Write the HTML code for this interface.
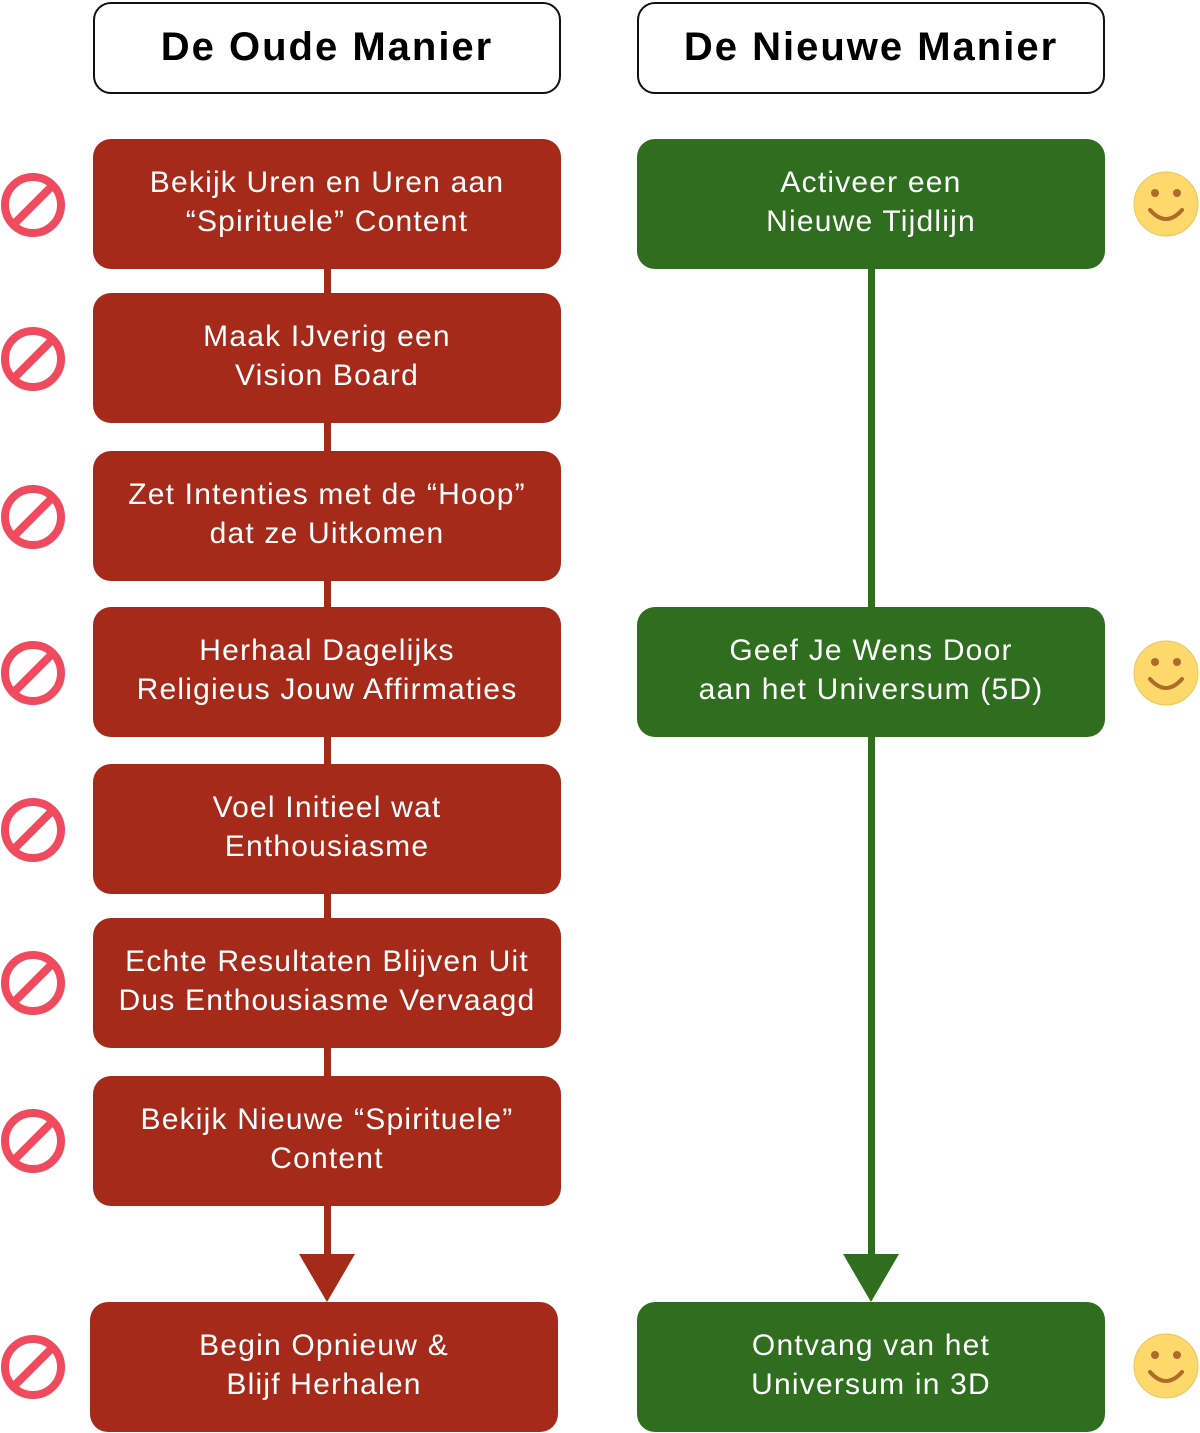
<!DOCTYPE html>
<html><head><meta charset="utf-8"><style>
body{margin:0;width:1200px;height:1433px;background:#fff;position:relative;overflow:hidden;font-family:"Liberation Sans",sans-serif}
.b{position:absolute;box-sizing:border-box;display:flex;align-items:center;justify-content:center;text-align:center;color:#fff;font-size:30px;line-height:39px;border-radius:18px;letter-spacing:1.2px;padding-bottom:4px}
.r{background:#a52a1a;left:93px;width:468px;height:130px}
.g{background:#2e6e1e;left:637px;width:468px;height:130px}
.h{top:2px;height:92px;width:468px;border:2px solid #111;color:#000;font-size:40px;font-weight:bold;background:#fff;letter-spacing:2px;padding-bottom:2px}
.l{position:absolute}
</style></head><body>
<div class="l" style="left:324px;top:260px;width:7px;height:1000px;background:#a52a1a"></div>
<div class="l" style="left:868px;top:260px;width:7px;height:1000px;background:#2e6e1e"></div>
<svg class="l" style="left:0;top:0" width="1200" height="1433">
<polygon points="299,1254 355,1254 327,1302" fill="#a52a1a"/>
<polygon points="843,1254 899,1254 871,1302" fill="#2e6e1e"/>
<g fill="none" stroke="#ef4a5e" stroke-width="8">
<g id="p"><circle cx="33" cy="205" r="28"/><line x1="13" y1="225" x2="53" y2="185"/></g>
<use href="#p" y="154"/><use href="#p" y="312"/><use href="#p" y="468"/><use href="#p" y="625"/><use href="#p" y="778"/><use href="#p" y="936"/><use href="#p" y="1162"/>
</g>
<g id="s"><circle cx="1166" cy="204" r="32" fill="#fcd96a" stroke="#e8c75a" stroke-width="1"/><circle cx="1155" cy="193" r="4" fill="#b06a2a"/><circle cx="1177" cy="193" r="4" fill="#b06a2a"/><path d="M1150 210 Q1166 228 1182 210" fill="none" stroke="#b06a2a" stroke-width="4" stroke-linecap="round"/></g>
<use href="#s" y="469"/><use href="#s" y="1162"/>
</svg>
<div class="b h" style="left:93px">De Oude Manier</div>
<div class="b h" style="left:637px">De Nieuwe Manier</div>
<div class="b r" style="top:139px">Bekijk Uren en Uren aan<br>“Spirituele” Content</div>
<div class="b r" style="top:293px">Maak IJverig een<br>Vision Board</div>
<div class="b r" style="top:451px">Zet Intenties met de “Hoop”<br>dat ze Uitkomen</div>
<div class="b r" style="top:607px">Herhaal Dagelijks<br>Religieus Jouw Affirmaties</div>
<div class="b r" style="top:764px">Voel Initieel wat<br>Enthousiasme</div>
<div class="b r" style="top:918px">Echte Resultaten Blijven Uit<br>Dus Enthousiasme Vervaagd</div>
<div class="b r" style="top:1076px">Bekijk Nieuwe “Spirituele”<br>Content</div>
<div class="b r" style="top:1302px;left:90px">Begin Opnieuw &amp;<br>Blijf Herhalen</div>
<div class="b g" style="top:139px">Activeer een<br>Nieuwe Tijdlijn</div>
<div class="b g" style="top:607px">Geef Je Wens Door<br>aan het Universum (5D)</div>
<div class="b g" style="top:1302px">Ontvang van het<br>Universum in 3D</div>
</body></html>
